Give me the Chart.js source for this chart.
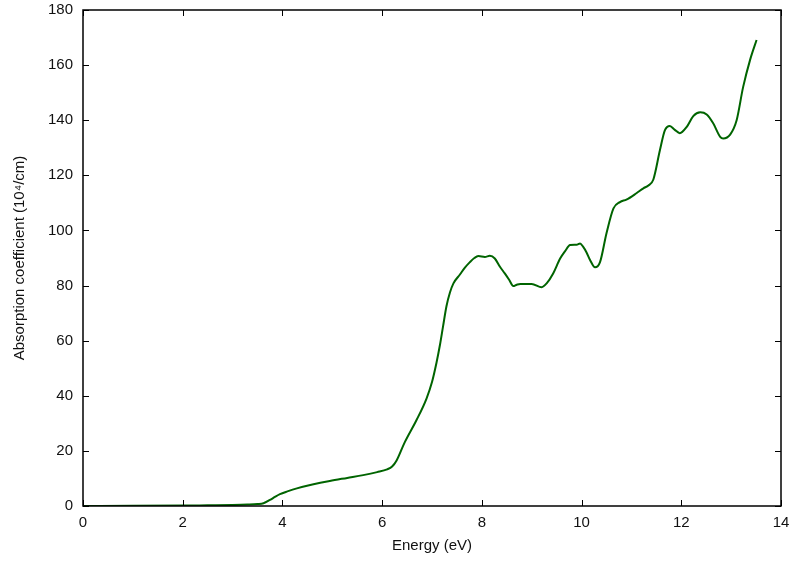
<!DOCTYPE html>
<html>
<head>
<meta charset="utf-8">
<script src="https://cdn.jsdelivr.net/npm/chart.js@4.4.1/dist/chart.umd.min.js"></script>
<style>
  html, body { margin: 0; padding: 0; background: #fff; }
  #wrap { width: 791px; height: 561px; position: relative; }
</style>
</head>
<body>
<div id="wrap"><canvas id="c" width="791" height="561"></canvas></div>
<script>
const energy = [0, 1, 2, 2.5, 3, 3.3, 3.5, 3.62, 3.75, 3.85, 3.95, 4.1, 4.29, 4.6, 4.95, 5.3, 5.62, 5.9, 6.1, 6.2, 6.29, 6.45, 6.69, 6.89, 7.0, 7.09, 7.16, 7.22, 7.29, 7.36, 7.43, 7.56, 7.66, 7.76, 7.85, 7.93, 8.06, 8.16, 8.26, 8.36, 8.46, 8.55, 8.63, 8.7, 8.77, 9.0, 9.2, 9.3, 9.43, 9.57, 9.67, 9.77, 9.9, 9.97, 10.03, 10.1, 10.17, 10.27, 10.37, 10.5, 10.64, 10.77, 10.9, 11.1, 11.24, 11.34, 11.44, 11.57, 11.67, 11.77, 11.87, 11.97, 12.11, 12.24, 12.38, 12.51, 12.64, 12.78, 12.84, 12.98, 13.11, 13.24, 13.38, 13.51];
const absorption = [0, 0.05, 0.15, 0.25, 0.35, 0.5, 0.7, 1.0, 2.2, 3.3, 4.3, 5.3, 6.4, 7.8, 9.1, 10.2, 11.2, 12.3, 13.3, 14.3, 16.5, 23, 31.2, 39, 45, 52, 58.5, 65, 72.5, 77.5, 80.8, 84, 86.5, 88.5, 90, 90.7, 90.4, 90.8, 89.8, 86.9, 84.4, 82, 79.8, 80.3, 80.6, 80.6, 79.4, 80.8, 84.4, 89.8, 92.5, 94.7, 94.8, 95.3, 94.1, 92, 89.3, 86.6, 88.5, 99, 108, 110.3, 111.2, 113.5, 115.3, 116.3, 118.5, 129, 136.3, 137.9, 136.5, 135.3, 137.6, 141.5, 142.9, 142.1, 138.9, 134, 133.4, 134.8, 140, 152, 161.9, 169.1];
const xTicks = [0, 2, 4, 6, 8, 10, 12, 14];
const yTicks = [0, 20, 40, 60, 80, 100, 120, 140, 160, 180];
const xTitle = 'Energy (eV)';
const yTitle = 'Absorption coefficient (10\u2074/cm)';

const points = energy.map((e, i) => ({ x: e, y: absorption[i] }));
const FONT = 'Liberation Sans, Arial, Helvetica, sans-serif';

const innerTicks = {
  id: 'innerTicks',
  afterDraw(chart) {
    const { ctx, chartArea: a, scales } = chart;
    ctx.save();
    ctx.strokeStyle = '#000';
    ctx.lineWidth = 1;
    const L = 6;
    ctx.beginPath();
    xTicks.forEach(v => {
      const px = Math.round(scales.x.getPixelForValue(v)) + 0.5;
      ctx.moveTo(px, a.bottom); ctx.lineTo(px, a.bottom - L);
      ctx.moveTo(px, a.top); ctx.lineTo(px, a.top + L);
    });
    yTicks.forEach(v => {
      const py = Math.round(scales.y.getPixelForValue(v)) + 0.5;
      ctx.moveTo(a.left, py); ctx.lineTo(a.left + L, py);
      ctx.moveTo(a.right, py); ctx.lineTo(a.right - L, py);
    });
    ctx.stroke();
    ctx.lineWidth = 1.5;
    ctx.strokeRect(a.left, a.top, a.right - a.left, a.bottom - a.top);
    ctx.restore();
  }
};

new Chart(document.getElementById('c'), {
  type: 'line',
  data: {
    datasets: [{
      data: points,
      borderColor: '#006400',
      borderWidth: 2,
      pointRadius: 0,
      fill: false,
      cubicInterpolationMode: 'monotone'
    }]
  },
  options: {
    responsive: false,
    animation: false,
    layout: { padding: { top: 10, right: 10, left: 0, bottom: 0 } },
    plugins: { legend: { display: false }, tooltip: { enabled: false } },
    scales: {
      x: {
        type: 'linear', min: 0, max: 14,
        afterFit(s) { s.height = 55; s.paddingLeft = 0; s.paddingRight = 0; },
        afterBuildTicks(s) { s.ticks = xTicks.map(v => ({ value: v })); },
        grid: { display: false, drawTicks: false },
        border: { display: false },
        ticks: { padding: 8, color: '#111', font: { family: FONT, size: 15 }, maxRotation: 0 },
        title: { display: true, text: xTitle, color: '#111', font: { family: FONT, size: 15 }, padding: { top: 0, bottom: 6 } }
      },
      y: {
        type: 'linear', min: 0, max: 180,
        afterFit(s) { s.width = 83; s.paddingTop = 0; s.paddingBottom = 0; },
        afterBuildTicks(s) { s.ticks = yTicks.map(v => ({ value: v })); },
        grid: { display: false, drawTicks: false },
        border: { display: false },
        ticks: { padding: 10, color: '#111', font: { family: FONT, size: 15 } },
        title: { display: true, text: yTitle, color: '#111', font: { family: FONT, size: 15 }, padding: { top: 11, bottom: 0 } }
      }
    }
  },
  plugins: [innerTicks]
});
</script>
</body>
</html>
